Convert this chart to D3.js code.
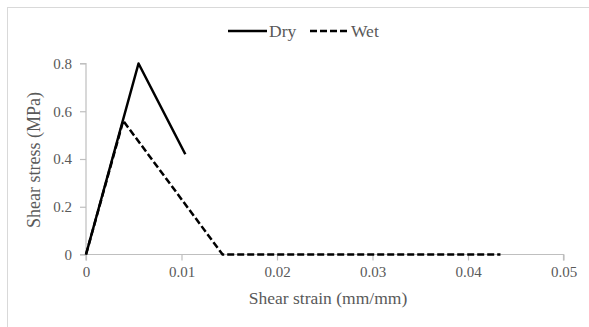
<!DOCTYPE html>
<html><head><meta charset="utf-8">
<script src="https://cdn.jsdelivr.net/npm/d3@7"></script>
<style>body{margin:0;background:#fff;} svg{display:block;}</style>
</head><body>
<script>
const xTicks = [0, 0.01, 0.02, 0.03, 0.04, 0.05];
const yTicks = [0, 0.2, 0.4, 0.6, 0.8];
const dryX = [0, 0.0055, 0.0104];
const dryY = [0, 0.80, 0.42];
const wetX = [0, 0.0039, 0.0143, 0.0434];
const wetY = [0, 0.56, 0, 0];
const seriesNames = ["Dry", "Wet"];

const W = 589, H = 327;
const svg = d3.select("body").append("svg").attr("width", W).attr("height", H);
svg.append("rect").attr("x", 7.5).attr("y", 7.5).attr("width", 600).attr("height", 400)
  .attr("fill", "#fff").attr("stroke", "#d9d9d9").attr("stroke-width", 1);

const x = d3.scaleLinear().domain([0, 0.05]).range([86, 563.5]);
const y = d3.scaleLinear().domain([0, 0.8]).range([254.5, 63.5]);
const font = "Liberation Serif, Times New Roman, serif";
const txt = "#595959", axc = "#bfbfbf";

const xa = svg.append("g").attr("transform", "translate(0,254.5)")
  .call(d3.axisBottom(x).tickValues(xTicks).tickSize(6).tickPadding(6)
    .tickFormat(d => d === 0 ? "0" : d3.format(".2f")(d)));
const ya = svg.append("g").attr("transform", "translate(86,0)")
  .call(d3.axisLeft(y).tickValues(yTicks).tickSize(6).tickPadding(8)
    .tickFormat(d => d === 0 ? "0" : d3.format(".1f")(d)));
[xa, ya].forEach(g => {
  g.attr("font-family", font).attr("font-size", 15);
  g.select(".domain").attr("stroke", axc).attr("stroke-width", 1.2);
  g.selectAll(".tick line").attr("stroke", axc).attr("stroke-width", 1.2);
  g.selectAll("text").attr("fill", txt);
});
ya.select(".domain").attr("d", "M-6,254.5H0V63.5H-6");
xa.select(".domain").attr("d", "M86,6V0H563.5V6");

const line = d3.line().x(d => x(d[0])).y(d => y(d[1]));
svg.append("path").datum(dryX.map((v, i) => [v, dryY[i]])).attr("d", line)
  .attr("fill", "none").attr("stroke", "#000").attr("stroke-width", 2.5).attr("stroke-linejoin", "round");
svg.append("path").datum(wetX.map((v, i) => [v, wetY[i]])).attr("d", line)
  .attr("fill", "none").attr("stroke", "#000").attr("stroke-width", 2.5).attr("stroke-dasharray", "7,3");

svg.append("text").attr("x", 328).attr("y", 304).attr("text-anchor", "middle")
  .attr("fill", txt).attr("font-family", font).attr("font-size", 17.5).text("Shear strain (mm/mm)");
svg.append("text").attr("transform", "translate(40,160) rotate(-90)").attr("text-anchor", "middle")
  .attr("fill", txt).attr("font-family", font).attr("font-size", 18).text("Shear stress (MPa)");

// legend
const lg = svg.append("g");
lg.append("line").attr("x1", 228).attr("x2", 267).attr("y1", 31).attr("y2", 31)
  .attr("stroke", "#000").attr("stroke-width", 2.5);
lg.append("text").attr("x", 269).attr("y", 37).attr("fill", txt).attr("font-family", font)
  .attr("font-size", 17.5).text(seriesNames[0]);
lg.append("line").attr("x1", 310).attr("x2", 350).attr("y1", 31).attr("y2", 31)
  .attr("stroke", "#000").attr("stroke-width", 2.5).attr("stroke-dasharray", "7,3");
lg.append("text").attr("x", 351).attr("y", 37).attr("fill", txt).attr("font-family", font)
  .attr("font-size", 17.5).text(seriesNames[1]);
</script>
</body></html>
